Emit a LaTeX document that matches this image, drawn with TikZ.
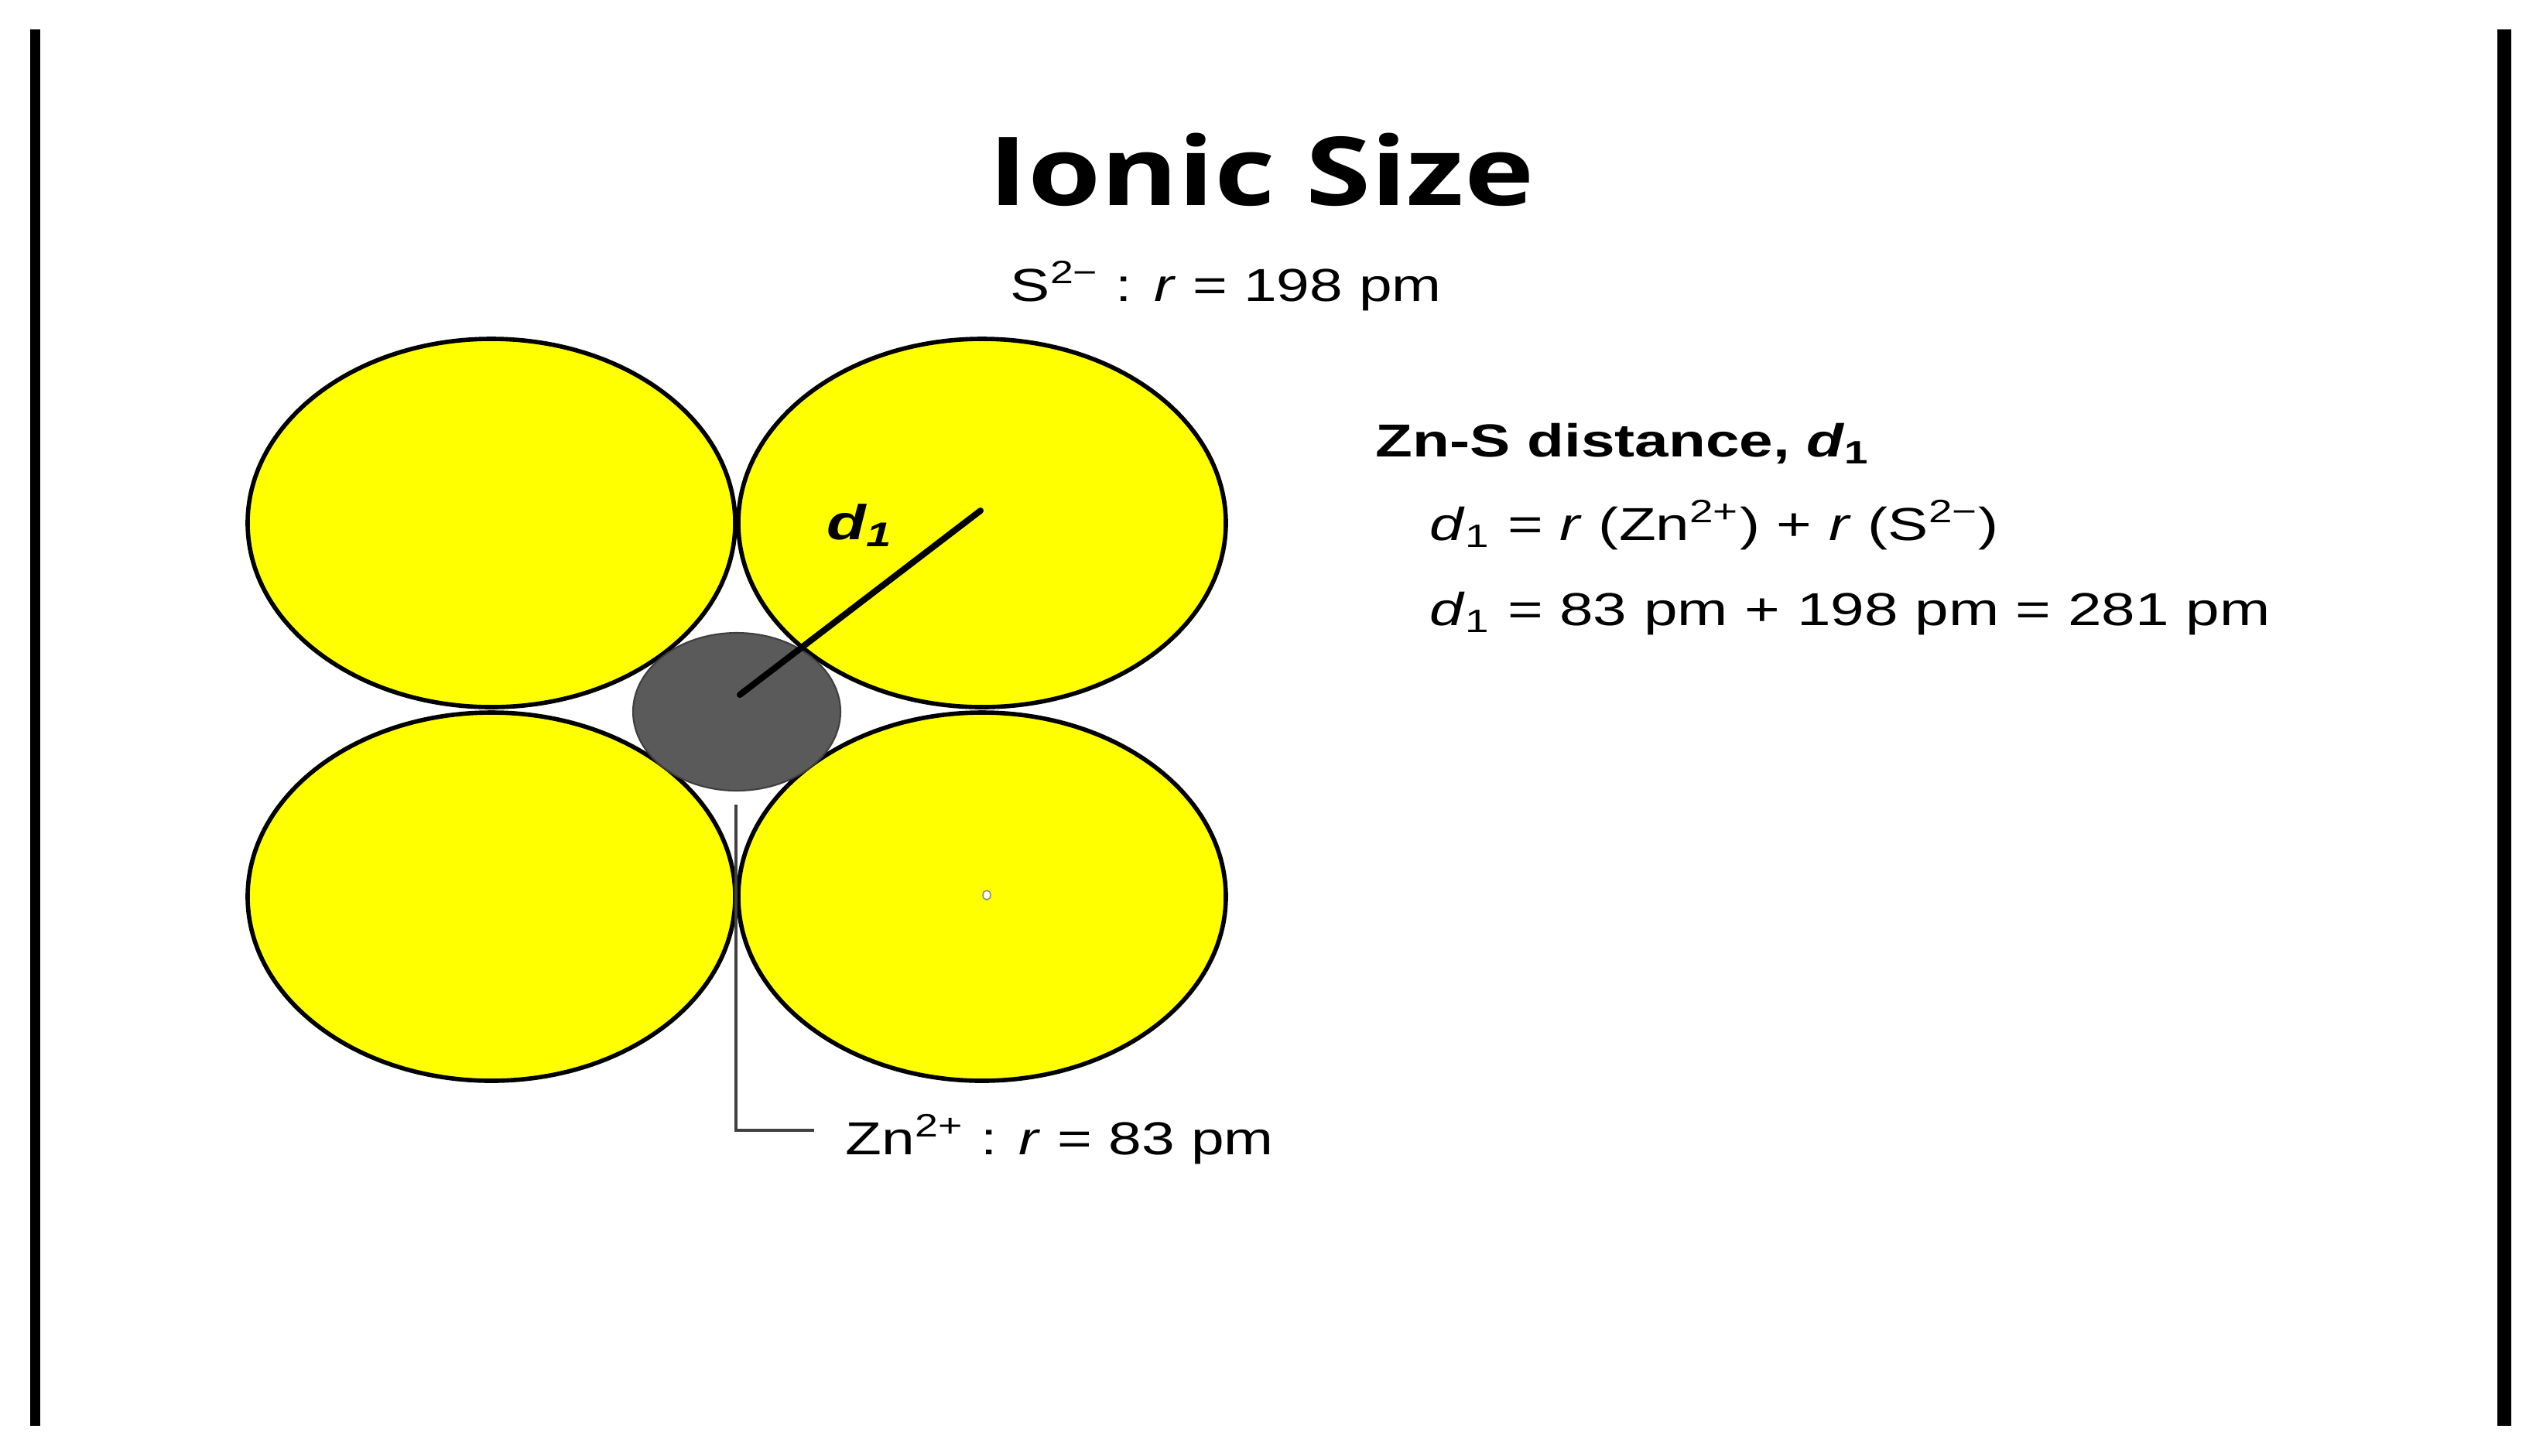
\documentclass[tikz,border=0pt]{standalone}
\usepackage{fontspec}
\setmainfont{Liberation Sans}
\newfontfamily\headfont{Open Sans}
\usetikzlibrary{shapes.geometric}
\definecolor{sulfur}{HTML}{FFFF00}
\definecolor{zinc}{HTML}{5A5A5A}

\begin{document}
\begin{tikzpicture}[
    sion/.style={ellipse, draw=black, line width=1.6pt, fill=sulfur, minimum width=6.3cm, minimum height=4.76cm, inner sep=0},
    znion/.style={ellipse, draw=zinc!70!black, line width=0.6pt, fill=zinc, minimum width=2.68cm, minimum height=2.04cm, inner sep=0},
    lbl/.style={font=\fontsize{17}{20}\selectfont, inner sep=0, xscale=1.31, anchor=base west},
    bond/.style={line width=2.3pt, line cap=round},
    leader/.style={line width=0.9pt, black!75}
]
    % Frame
    \useasboundingbox (0,0) rectangle (32.86,-18.81);
    \fill[black] (0.39,-0.38) rectangle (0.52,-18.43);
    \fill[black] (32.27,-0.38) rectangle (32.45,-18.43);

    % Title
    \node[font=\headfont\bfseries\fontsize{35}{40}\selectfont, xscale=1.24, anchor=base, inner sep=0] (title) at (16.30,-2.65) {Ionic Size};
    \node[lbl, xscale=0.98] (slbl) at (13.05,-3.89) {S\textsuperscript{2−} : \textit{r} = 198 pm};

    % Sulfide ions
    \node[sion] (s1) at (6.35,-6.76) {};
    \node[sion] (s2) at (12.69,-6.76) {};
    \node[sion] (s3) at (6.35,-11.59) {};
    \node[sion] (s4) at (12.69,-11.59) {};
    \fill[white, draw=gray] (12.75,-11.57) ellipse (0.05 and 0.06);

    % Zinc ion
    \node[znion] (zn) at (9.52,-9.20) {};

    % Distance d1
    \coordinate (d1a) at (9.56,-8.98);
    \coordinate (d1b) at (12.67,-6.60);
    \draw[bond] (d1a) -- (d1b);
    \node[lbl, font=\bfseries\itshape\fontsize{18}{20}\selectfont] (d1lbl) at (10.68,-6.97) {d\textsubscript{1}};

    % Zn label
    \coordinate (leadtop) at (9.51,-10.40);
    \coordinate (leadend) at (10.52,-14.61);
    \draw[leader] (leadtop) |- (leadend);
    \node[lbl, xscale=0.98] (znlbl) at (10.92,-14.92) {Zn\textsuperscript{2+} : \textit{r} = 83 pm};

    % Distance text
    \node[lbl, font=\bfseries\fontsize{17}{20}\selectfont] (head) at (17.77,-5.90) {Zn-S distance, \textit{d}\textsubscript{1}};
    \node[lbl] (eq1) at (18.47,-6.98) {\textit{d}\textsubscript{1} = \textit{r} (Zn\textsuperscript{2+}) + \textit{r} (S\textsuperscript{2−})};
    \node[lbl] (eq2) at (18.47,-8.08) {\textit{d}\textsubscript{1} = 83 pm + 198 pm = 281 pm};
\end{tikzpicture}
\end{document}
